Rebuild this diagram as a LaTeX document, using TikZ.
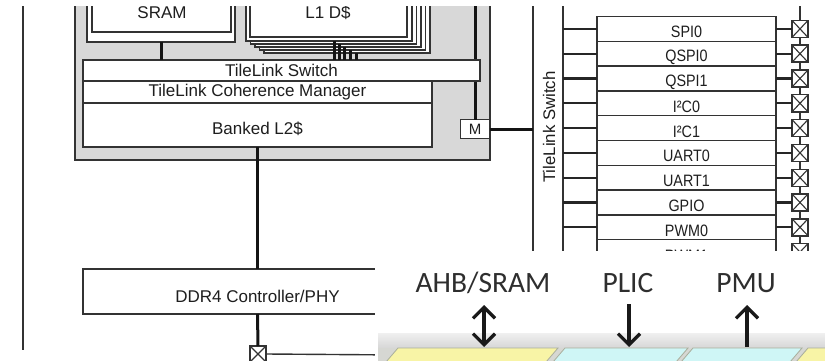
\documentclass[tikz,border=0pt]{standalone}
\usepackage{fontspec}
\setmainfont{Liberation Sans}
\newfontfamily\calib{Carlito}
\newfontfamily\narrowf[FakeStretch=0.87]{Liberation Sans}
\usetikzlibrary{arrows.meta}
\definecolor{linec}{HTML}{333333}
\definecolor{coregray}{HTML}{D8D8D8}
\definecolor{txtc}{HTML}{1E1E1E}
\definecolor{ovtxt}{HTML}{2E2E2E}
\definecolor{pyellow}{HTML}{F8F4A6}
\definecolor{pcyan}{HTML}{CFF6F6}
\definecolor{sepc}{HTML}{A9AE9C}
\begin{document}
\begin{tikzpicture}[x=1pt,y=-1pt,
  box/.style={draw=linec,line width=1.4pt,fill=white,inner sep=0pt,outer sep=0pt},
  lbl/.style={inner sep=0pt,text=txtc,font=\fontsize{17}{17}\selectfont},
  plbl/.style={inner sep=0pt,text=txtc,font=\narrowf\fontsize{16.5}{16.5}\selectfont},
  thinline/.style={draw=linec,line width=1.4pt},
  bus/.style={draw=black!92,line width=3pt},
  stub/.style={draw=black!85,line width=2.2pt},
  xpad/.style={box,minimum width=16pt,minimum height=17pt,
    path picture={\draw[linec,line width=1.1pt]
      (path picture bounding box.north west)--(path picture bounding box.south east)
      (path picture bounding box.north east)--(path picture bounding box.south west);}},
  ovlbl/.style={inner sep=0pt,text=ovtxt,font=\calib\fontsize{29.5}{29.5}\selectfont},
  arr/.style={draw=black!90,line width=3.3pt},
  barb/.tip={Straight Barb[length=11pt,width=22pt]}
]
\useasboundingbox (0,0) rectangle (825,361);
\begin{scope}
\clip (0,7) rectangle (825,361);
% core complex
\node[box,fill=coregray,minimum width=415pt,minimum height=180pt] (core) at (282.5,70) {};
% SRAM
\node[box,minimum width=148pt,minimum height=62pt] (sramo) at (161,11) {};
\node[box,minimum width=139pt,minimum height=52pt] (srami) at (161.5,6) {};
\node[lbl] (sramt) at (162,13) {SRAM};
% L1 D$ stack
\foreach \k in {4,3,2,1}
  \node[box,minimum width=166pt,minimum height=61pt] (l1c\k) at ({329+4.5*\k},{10.5+3*\k}) {};
\node[box,minimum width=166pt,minimum height=61pt] (l1o) at (329,10.5) {};
\node[box,minimum width=157pt,minimum height=57pt] (l1i) at (328.5,8.5) {};
\node[lbl] (l1t) at (328,13) {L1 D\$};
% M port and bus
\node[box,minimum width=29pt,minimum height=19pt,lbl,font=\fontsize{15}{15}\selectfont] (m) at (475,129) {M};
\coordinate (bustop) at (475,0);
\draw[bus] (bustop) -- (m.north);
% switch, coherence manager, L2
\node[box,lbl,minimum width=397pt,minimum height=21pt] (sw) at (281.5,70.5) {TileLink Switch};
\node[box,lbl,minimum width=349pt,minimum height=22pt] (tcm) at (257.5,92) {TileLink Coherence Manager};
\node[box,minimum width=349pt,minimum height=44pt] (l2) at (257.5,125) {};
\node[lbl] (l2t) at (257.5,129) {Banked L2\$};
% connections into switch
\draw[bus] (sramo.south) -- (sramo.south |- sw.north);
\draw[bus] ([xshift=5pt]l1o.south) -- ([xshift=5pt]l1o.south |- sw.north);
\draw[bus] ([xshift=5.5pt]l1c1.south) -- ([xshift=5.5pt]l1c1.south |- sw.north);
\draw[bus] ([xshift=6pt]l1c2.south) -- ([xshift=6pt]l1c2.south |- sw.north);
\draw[bus] ([xshift=7.5pt]l1c3.south) -- ([xshift=7.5pt]l1c3.south |- sw.north);
\draw[bus] ([xshift=9pt]l1c4.south) -- ([xshift=9pt]l1c4.south |- sw.north);
% peripheral TileLink switch
\node[box,minimum width=30pt,minimum height=300pt] (rsw) at (548,130) {};
\node[lbl,rotate=90,font=\fontsize{16.8}{16.8}\selectfont] (rswt) at (549,127) {TileLink Switch};
\draw[bus] (m.east) -- (m.east -| rsw.west);
% pad chain
\coordinate (chaintop) at (800,0);
\coordinate (chainbot) at (800,262);
\draw[thinline,line width=1.1pt] (chaintop) -- (chainbot);
% peripherals
\foreach \t [count=\i from 0] in {SPI0,QSPI0,QSPI1,I²C0,I²C1,UART0,UART1,GPIO,PWM0,PWM1}{
  \node[box,minimum width=179pt,minimum height=24.8pt] (p\i) at (686.5,{28.9+24.8*\i}) {};
  \node[plbl] (pt\i) at (686.5,{32.2+24.8*\i}) {\t};
  \draw[stub] (p\i.west -| rsw.east) -- (p\i.west);
  \node[xpad] (x\i) at (800,{28.9+24.8*\i}) {};
  \draw[stub] (p\i.east) -- (x\i.west);
}
% left line
\coordinate (lt) at (23,0);
\coordinate (lb) at (23,350);
\draw[thinline,line width=1.6pt] (lt) -- (lb);
% DDR4
\node[box,minimum width=349pt,minimum height=45pt] (ddr) at (257.5,291.5) {};
\node[lbl] (ddrt) at (257.5,296.5) {DDR4 Controller/PHY};
\draw[bus] (l2.south) -- (ddr.north);
\node[xpad,minimum height=16pt] (pad) at (258,354) {};
\draw[bus] (ddr.south) -- (pad.north);
\coordinate (padr) at (400,355);
\draw[thinline] (pad.east) -- (padr);
\end{scope}
% overlay picture
\fill[white] (375,251) rectangle (825,361);
\shade[top color=gray!12,bottom color=gray!32] (378,333) rectangle (825,348);
\fill[sepc!60!gray!40] (378,348) rectangle (825,361);
\fill[pyellow,draw=sepc,line width=0.8pt] (386,362) -- (398,348) -- (558,348) -- (546,362) -- cycle;
\fill[pcyan,draw=sepc,line width=0.8pt] (553,362) -- (565,348) -- (688,348) -- (676,362) -- cycle;
\fill[pcyan,draw=sepc,line width=0.8pt] (681,362) -- (693,348) -- (802,348) -- (790,362) -- cycle;
\fill[pyellow,draw=sepc,line width=0.8pt] (796,362) -- (808,348) -- (830,348) -- (830,362) -- cycle;
\node[ovlbl] (ahb) at (483,283) {AHB/SRAM};
\node[ovlbl] (plic) at (628,283) {PLIC};
\node[ovlbl] (pmu) at (746,283) {PMU};
\coordinate (a1t) at (484,305);
\coordinate (a1b) at (484,347);
\coordinate (a2t) at (629,304);
\coordinate (a2b) at (629,347);
\coordinate (a3t) at (747,305);
\coordinate (a3b) at (747,347);
\draw[arr,{barb}-{barb}] (a1t) -- (a1b);
\draw[arr,-{barb}] (a2t) -- (a2b);
\draw[arr,-{barb}] (a3b) -- (a3t);
\end{tikzpicture}
\end{document}
